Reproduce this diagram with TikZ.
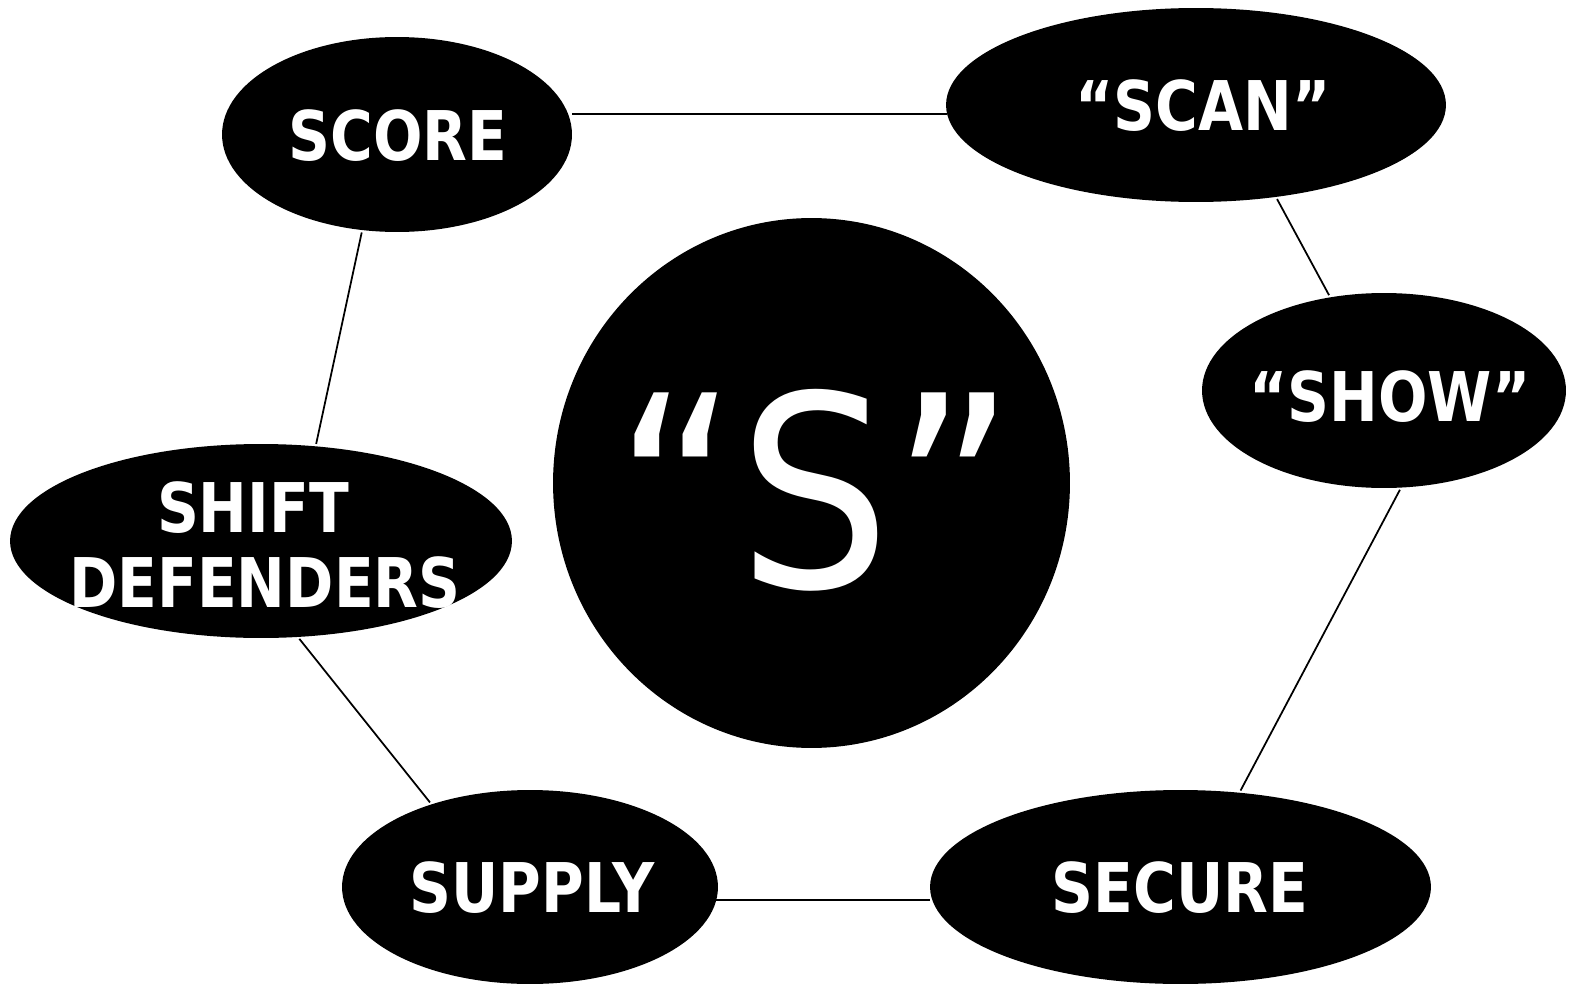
\documentclass[tikz,border=0pt]{standalone}
\usepackage{fontspec}
\usetikzlibrary{shapes.geometric}
% Narrowed DejaVu Sans for the labels and the central letter
\newfontfamily\lblfont{DejaVu Sans}[FakeStretch=0.85]
\newfontfamily\hubfont{DejaVu Sans}[FakeStretch=0.9]

\begin{document}
\begin{tikzpicture}[x=0.02cm,y=-0.02cm,
  oval/.style={ellipse, fill=black, draw=none, inner sep=0pt, outer sep=0pt},
  lbl/.style={text=white, align=center, inner sep=0pt,
    font={\lblfont\bfseries\fontsize{39}{42.7}\selectfont}},
  link/.style={draw=black, line width=1pt},
  gap/.style={shorten <=0.05cm, shorten >=0.05cm}]
\useasboundingbox (0,0) rectangle (1573,987);

% ovals
\node[oval, minimum width=7cm,    minimum height=3.9cm]  (score)  at (397,134.5) {};
\node[oval, minimum width=10cm,   minimum height=3.88cm] (scan)   at (1196,105) {};
\node[oval, minimum width=7.28cm, minimum height=3.9cm]  (show)   at (1384,390.5) {};
\node[oval, minimum width=10.04cm,minimum height=3.88cm] (shift)  at (261,541) {};
\node[oval, minimum width=7.52cm, minimum height=3.88cm] (supply) at (530,887) {};
\node[oval, minimum width=10.02cm,minimum height=3.88cm] (secure) at (1180.5,887) {};
\node[oval, minimum width=10.34cm,minimum height=10.6cm] (hub)    at (811.5,483) {};

% labels
\node[lbl] (scoreT)  at (398,135.5) {SCORE};
\node[lbl] (scanT)   at (1203,106) {“SCAN”};
\node[lbl] (showT)   at (1390,397) {“SHOW”};
\node[lbl] (shiftT)  at (265,545) {SHIFT\kern13.7pt\\DEFENDERS};
\node[lbl] (supplyT) at (532,887.5) {SUPPLY};
\node[lbl] (secureT) at (1180,888) {SECURE};
\node[text=white, inner sep=0pt, font={\hubfont\fontsize{152}{160}\selectfont}] (hubT) at (815,490) {“S”};

% connectors
\draw[link] (scan.182.1) -- (scan.182.1 -| score.east);
\draw[link,gap] (scan.311) -- (show.120.4);
\draw[link,gap] (score.250) -- (shift.60.1);
\draw[link,gap] (shift.291.2) -- (supply.140.2);
\draw[link,gap] (show.280.5) -- (secure.58.5);
\draw[link] (supply.-4.2) -- (supply.-4.2 -| secure.west);
\end{tikzpicture}
\end{document}
